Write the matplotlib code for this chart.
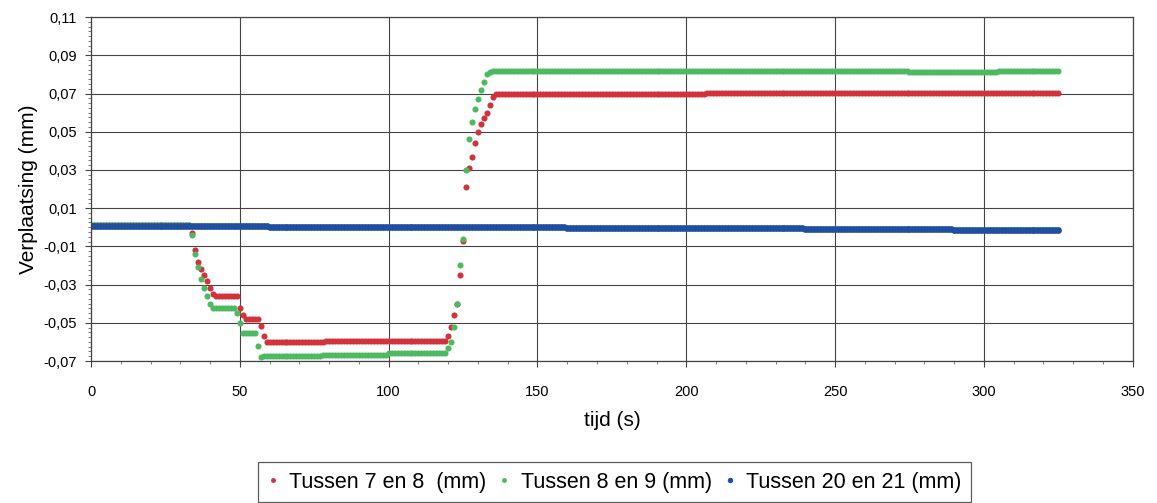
import matplotlib
matplotlib.use("Agg")
import matplotlib.pyplot as plt
from matplotlib.ticker import MultipleLocator, FuncFormatter
import numpy as np

plt.rcParams['font.family'] = ['Liberation Sans', 'DejaVu Sans']

# time samples (s)
tijd = list(range(0, 326))

# Tussen 7 en 8 (mm)
red_vals = ([0.001] * 34 +
            [-0.003, -0.012, -0.018, -0.022, -0.025, -0.028, -0.032] +
            [-0.035] + [-0.036] * 8 +
            [-0.042, -0.046] + [-0.048] * 5 + [-0.0516, -0.0568] +
            [-0.0598] * 20 + [-0.0595] * 41 +
            [-0.057, -0.052, -0.046, -0.040, -0.025, -0.007, 0.021, 0.031,
             0.037, 0.044, 0.050, 0.054, 0.057, 0.060, 0.064, 0.068, 0.0695] +
            [0.0700] * 70 + [0.0702] * 60 + [0.0705] * 59)

# Tussen 8 en 9 (mm)
green_vals = ([0.001] * 34 +
              [-0.004, -0.014, -0.021, -0.027, -0.032, -0.036, -0.040] +
              [-0.0425] * 8 +
              [-0.045, -0.050] + [-0.0555] * 5 + [-0.062, -0.068] +
              [-0.0675] * 20 + [-0.0668] * 22 + [-0.066] * 20 +
              [-0.063, -0.060, -0.052, -0.040, -0.020, -0.006, 0.030, 0.046,
               0.055, 0.062, 0.067, 0.072, 0.076, 0.080, 0.0815] +
              [0.0820] * 140 + [0.0815] * 30 + [0.0818] * 21)

# Tussen 20 en 21 (mm)
blue_vals = ([0.0005] * 60 + [0.0] * 100 + [-0.0005] * 80 +
             [-0.001] * 50 + [-0.0015] * 36)

series = [
    ("Tussen 7 en 8  (mm)", red_vals, "#d1323c", 4.4),
    ("Tussen 8 en 9 (mm)", green_vals, "#4dba62", 4.4),
    ("Tussen 20 en 21 (mm)", blue_vals, "#1f4f9e", 4.9),
]

fig = plt.figure(figsize=(11.57, 5.03), dpi=100)
ax = fig.add_axes([0.0787, 0.2823, 0.9003, 0.6837])

handles = []
for label, vals, col, ms in series:
    n = min(len(vals), len(tijd))
    h, = ax.plot(tijd[:n], vals[:n], linestyle='none', marker='o',
                 markersize=ms, markeredgewidth=0, color=col, label=label)
    handles.append(h)

ax.set_xlim(0, 350)
ax.set_ylim(-0.07, 0.11)
ax.xaxis.set_major_locator(MultipleLocator(50))
ax.xaxis.set_minor_locator(MultipleLocator(10))
ax.set_yticks(np.arange(-0.07, 0.1101, 0.02))
ax.yaxis.set_minor_locator(MultipleLocator(0.0025))

ax.yaxis.set_major_formatter(FuncFormatter(lambda v, p: f"{v:.2f}".replace('.', ',')))
ax.xaxis.set_major_formatter(FuncFormatter(lambda v, p: f"{v:.0f}"))

ax.grid(True, which='major', color='#444444', linewidth=0.8)
ax.set_axisbelow(True)
for s in ax.spines.values():
    s.set_color('#444444')
    s.set_linewidth(0.9)

ax.tick_params(axis='both', which='major', labelsize=10.5, color='#444444', length=4, direction='out')
ax.tick_params(axis='y', which='minor', length=2, color='#666666', direction='out')
ax.tick_params(axis='x', which='minor', length=2, color='#666666', direction='out')
ax.tick_params(axis='x', which='major', pad=13)
ax.tick_params(axis='y', which='major', pad=6)

ax.set_xlabel("tijd (s)", fontsize=15, labelpad=9)
ax.set_ylabel("Verplaatsing (mm)", fontsize=15, labelpad=4)

leg = fig.legend(handles=handles, loc='upper center', bbox_to_anchor=(0.531, 1 - 462 / 503), ncol=3,
                 fontsize=15.5, frameon=True, fancybox=False, edgecolor='#333333',
                 handlelength=0.5, handletextpad=0.5, columnspacing=0.6,
                 markerscale=0.8, borderpad=0.45, borderaxespad=0)
leg.get_frame().set_linewidth(0.9)

fig.savefig("out.png", dpi=100)
